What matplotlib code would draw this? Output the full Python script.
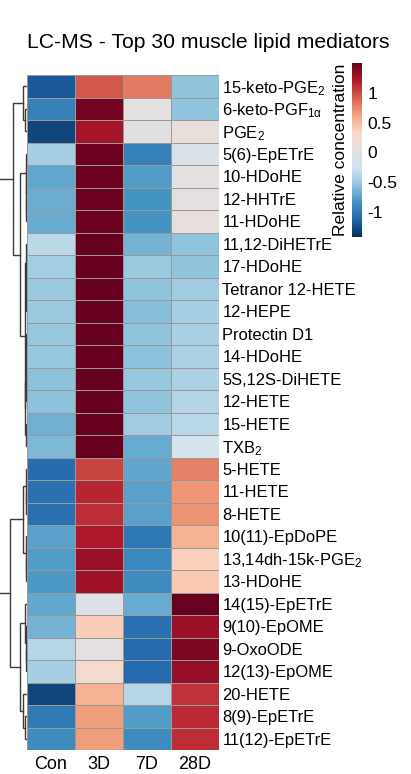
import numpy as np
import matplotlib
matplotlib.use("Agg")
import matplotlib.pyplot as plt
from matplotlib.colors import LinearSegmentedColormap

plt.rcParams['font.family'] = ['Liberation Sans', 'DejaVu Sans']
plt.rcParams['mathtext.fontset'] = 'custom'
plt.rcParams['mathtext.rm'] = 'Liberation Sans'
plt.rcParams['mathtext.it'] = 'Liberation Sans'
plt.rcParams['mathtext.bf'] = 'Liberation Sans:bold'

title = "LC-MS - Top 30 muscle lipid mediators"
columns = ["Con", "3D", "7D", "28D"]
rows = [
    r"15-keto-PGE$_2$", r"6-keto-PGF$_{\mathrm{1α}}$", r"PGE$_2$", "5(6)-EpETrE",
    "10-HDoHE", "12-HHTrE", "11-HDoHE", "11,12-DiHETrE", "17-HDoHE",
    "Tetranor 12-HETE", "12-HEPE", "Protectin D1", "14-HDoHE", "5S,12S-DiHETE",
    "12-HETE", "15-HETE", r"TXB$_2$", "5-HETE", "11-HETE", "8-HETE",
    "10(11)-EpDoPE", r"13,14dh-15k-PGE$_2$", "13-HDoHE", "14(15)-EpETrE",
    "9(10)-EpOME", "9-OxoODE", "12(13)-EpOME", "20-HETE", "8(9)-EpETrE",
    "11(12)-EpETrE",
]
con = [-1.20, -0.95, -1.30, -0.45, -0.72, -0.68, -0.70, -0.35, -0.47, -0.50,
       -0.50, -0.52, -0.52, -0.56, -0.56, -0.66, -0.62, -1.08, -1.05, -1.05,
       -0.75, -0.77, -0.80, -0.72, -0.65, -0.38, -0.45, -1.30, -1.00, -0.88]
d3 = [0.95, 1.45, 1.25, 1.47, 1.47, 1.47, 1.47, 1.50, 1.50, 1.50,
      1.50, 1.50, 1.50, 1.50, 1.50, 1.50, 1.50, 1.03, 1.15, 1.12,
      1.22, 1.30, 1.28, -0.08, 0.40, 0.05, 0.25, 0.55, 0.65, 0.65]
d7 = [0.80, 0.05, 0.00, -0.95, -0.78, -0.83, -0.83, -0.65, -0.50, -0.55,
      -0.58, -0.55, -0.56, -0.52, -0.55, -0.48, -0.70, -0.73, -0.75, -0.75,
      -1.02, -0.90, -0.88, -0.70, -1.05, -1.10, -1.10, -0.38, -0.78, -0.88]
d28 = [-0.55, -0.55, 0.10, -0.10, 0.03, 0.03, 0.08, -0.55, -0.55, -0.48,
       -0.45, -0.43, -0.42, -0.42, -0.39, -0.36, -0.20, 0.78, 0.68, 0.70,
       0.55, 0.38, 0.42, 1.50, 1.30, 1.42, 1.32, 1.10, 1.13, 1.12]
# row dendrogram: (merge height, left, right); leaves are row indices
row_tree = (30, (14, (4, 0, (2, 1, 2)),
                 (7, (1.2, 3, (1.0, 4, (0.8, 5, 6))),
                  (2.0, (1.5, 7, (1.2, 8, (1.0, 9, 10))),
                   (1.7, (1.3, (1.1, (0.9, 11, 12), 13), 14), (0.9, 15, 16))))),
            (17, (4, (1.2, 17, (0.8, 18, 19)), (1.3, 20, (0.9, 21, 22))),
             (7, (2, 23, (1.3, 24, (1.0, 25, 26))), (4, 27, (2, 28, 29)))))
cbar_ticks = [-1, -0.5, 0, 0.5, 1]
vmin, vmax = -1.42, 1.5

cmap = LinearSegmentedColormap.from_list("rdbu_grey", [
    '#053061', '#2166AC', '#4393C3', '#92C5DE', '#D1E3EE', '#E3E0DF',
    '#FBD9C7', '#F4A582', '#D6604D', '#B2182B', '#67001F'], N=256)

W, H = 411, 774
fig = plt.figure(figsize=(W / 100, H / 100), dpi=100)

def fx(px):
    return px / W

def fy(py):
    return 1 - py / H

hm_l, hm_r, hm_t, hm_b = 27, 219, 75, 750
ax = fig.add_axes([fx(hm_l), fy(hm_b), fx(hm_r - hm_l), (hm_b - hm_t) / H])
data = np.array([con, d3, d7, d28]).T
mesh = ax.pcolormesh(data, cmap=cmap, vmin=vmin, vmax=vmax,
                     edgecolors="#999999", linewidth=0.7)
ax.set_xlim(0, len(columns))
ax.set_ylim(len(rows), 0)
ax.set_xticks(np.arange(len(columns)) + 0.5)
ax.set_xticklabels(columns, fontsize=13)
ax.set_yticks(np.arange(len(rows)) + 0.5)
ax.set_yticklabels(rows, fontsize=11.9)
ax.yaxis.tick_right()
ax.tick_params(length=0, pad=2.5)
ax.tick_params(axis='x', pad=4)
for s in ax.spines.values():
    s.set_visible(False)

# dendrogram
dax = fig.add_axes([0, fy(hm_b), fx(hm_l), (hm_b - hm_t) / H])
dax.set_xlim(hm_l, 0)
dax.set_ylim(len(rows), 0)
dax.axis('off')

def draw(node):
    if isinstance(node, int):
        return node + 0.5, 0.0
    h, a, b = node
    ya, ha = draw(a)
    yb, hb = draw(b)
    dax.plot([ha, h, h, hb], [ya, ya, yb, yb], color="#3c3c3c", lw=1.0,
             solid_joinstyle='miter')
    return (ya + yb) / 2, h

draw(row_tree)

# colorbar
cax = fig.add_axes([fx(352), fy(237), fx(10), (237 - 63) / H])
cb = fig.colorbar(mesh, cax=cax, ticks=cbar_ticks)
cb.outline.set_visible(False)
cb.ax.set_yticklabels([("%g" % t) for t in cbar_ticks], fontsize=12.5)
cb.ax.tick_params(length=0, pad=4)
cb.ax.yaxis.set_label_position('left')
cb.set_label("Relative concentration", fontsize=12.5, labelpad=3)

fig.text(fx(208), fy(43), title, ha='center', va='center', fontsize=15.2)

fig.savefig("out.png", dpi=100)
